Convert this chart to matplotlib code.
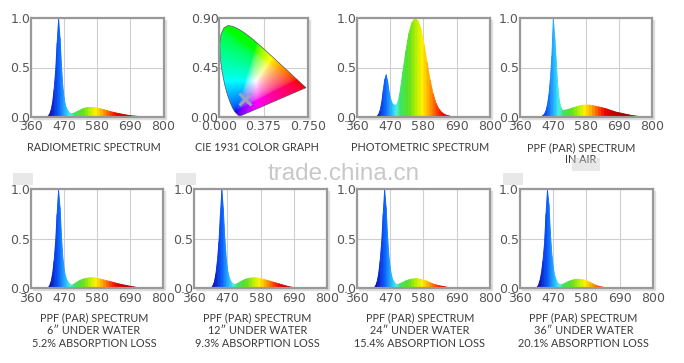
import numpy as np
import matplotlib
matplotlib.use("Agg")
import matplotlib.pyplot as plt
from matplotlib.colors import LinearSegmentedColormap
from matplotlib.patches import Polygon, Rectangle

# wavelength grid (nm) shared by all spectrum panels
wavelength = [360, 380,
              400, 405, 410, 415, 420, 425, 430, 435, 440, 445, 450, 455, 460, 465,
              470, 475, 480, 485, 490, 495, 500,
              510, 520, 530, 540, 550, 560, 570, 580, 590, 600, 610, 620, 630, 640,
              650, 660, 670, 680, 690, 700, 710, 720, 730, 740, 750, 760, 770, 780,
              790, 800]

radiometric = [0, 0,
               0, 0.002, 0.005, 0.01, 0.03, 0.07, 0.15, 0.28, 0.47, 0.75, 1.0, 0.8, 0.5, 0.28,
               0.16, 0.1, 0.07, 0.05, 0.038, 0.036, 0.04,
               0.055, 0.07, 0.085, 0.095, 0.1, 0.1, 0.098, 0.092, 0.085, 0.077, 0.068, 0.059, 0.051, 0.044,
               0.037, 0.031, 0.025, 0.02, 0.015, 0.012, 0.009, 0.007, 0.005, 0.003, 0.002, 0.001, 0, 0,
               0, 0]

photometric = [0, 0,
               0, 0, 0, 0, 0.005, 0.01, 0.03, 0.07, 0.15, 0.27, 0.38, 0.43, 0.36, 0.25,
               0.18, 0.14, 0.125, 0.12, 0.13, 0.17, 0.24,
               0.46, 0.67, 0.85, 0.96, 1.0, 0.98, 0.9, 0.74, 0.56, 0.38, 0.24, 0.14, 0.08, 0.045,
               0.025, 0.015, 0.008, 0.004, 0.002, 0, 0, 0, 0, 0, 0, 0, 0, 0,
               0, 0]

ppf_air = [0, 0,
           0, 0, 0, 0, 0, 0, 0.005, 0.015, 0.03, 0.06, 0.12, 0.22, 0.38, 0.62,
           1.0, 0.8, 0.55, 0.3, 0.17, 0.1, 0.07,
           0.072, 0.08, 0.09, 0.1, 0.11, 0.117, 0.122, 0.124, 0.123, 0.118, 0.112, 0.105, 0.098, 0.09,
           0.081, 0.07, 0.06, 0.05, 0.044, 0.038, 0.03, 0.024, 0.018, 0.013, 0.009, 0.006, 0.003, 0.001,
           0, 0]

ppf_6in = [0, 0,
           0, 0.002, 0.005, 0.01, 0.03, 0.07, 0.15, 0.28, 0.47, 0.75, 1.0, 0.82, 0.52, 0.29,
           0.17, 0.11, 0.075, 0.055, 0.042, 0.038, 0.045,
           0.065, 0.083, 0.096, 0.105, 0.11, 0.112, 0.11, 0.105, 0.098, 0.09, 0.082, 0.075, 0.067, 0.058,
           0.05, 0.043, 0.037, 0.031, 0.025, 0.019, 0.014, 0.01, 0.006, 0.003, 0.001, 0, 0, 0,
           0, 0]

ppf_12in = [0, 0,
            0, 0.002, 0.005, 0.01, 0.03, 0.07, 0.15, 0.28, 0.47, 0.75, 1.0, 0.8, 0.5, 0.29,
            0.17, 0.11, 0.075, 0.055, 0.045, 0.045, 0.05,
            0.068, 0.085, 0.098, 0.106, 0.11, 0.111, 0.108, 0.102, 0.094, 0.086, 0.077, 0.068, 0.059, 0.05,
            0.041, 0.032, 0.024, 0.017, 0.012, 0.008, 0.005, 0.003, 0.001, 0, 0, 0, 0, 0,
            0, 0]

ppf_24in = [0, 0,
            0, 0.002, 0.005, 0.01, 0.03, 0.07, 0.15, 0.28, 0.47, 0.75, 1.0, 0.82, 0.52, 0.3,
            0.18, 0.11, 0.075, 0.055, 0.042, 0.042, 0.05,
            0.065, 0.08, 0.09, 0.098, 0.1, 0.1, 0.096, 0.088, 0.077, 0.063, 0.05, 0.04, 0.032, 0.026,
            0.02, 0.014, 0.009, 0.005, 0.003, 0.001, 0, 0, 0, 0, 0, 0, 0, 0,
            0, 0]

ppf_36in = [0, 0,
            0, 0.002, 0.006, 0.012, 0.035, 0.08, 0.16, 0.28, 0.45, 0.75, 1.0, 0.85, 0.55, 0.33,
            0.2, 0.12, 0.08, 0.055, 0.045, 0.04, 0.045,
            0.06, 0.075, 0.086, 0.093, 0.096, 0.095, 0.09, 0.08, 0.066, 0.05, 0.036, 0.025, 0.018, 0.013,
            0.009, 0.006, 0.003, 0.001, 0, 0, 0, 0, 0, 0, 0, 0, 0, 0,
            0, 0]

x_ticks = [360, 470, 580, 690, 800]
y_ticks = [0.0, 0.5, 1.0]
y_ticklabels = ["0.0", "0.5", "1.0"]

# CIE 1931 spectral locus (x, y), 380..700 nm
locus_x = [0.1741, 0.1733, 0.1714, 0.1644, 0.1566, 0.1440, 0.1355, 0.1241, 0.1096, 0.0913,
           0.0687, 0.0454, 0.0235, 0.0082, 0.0039, 0.0139, 0.0389, 0.0743, 0.1142, 0.1547,
           0.1929, 0.2296, 0.2658, 0.3016, 0.3373, 0.3731, 0.4087, 0.4441, 0.4788, 0.5125,
           0.5448, 0.5752, 0.6029, 0.6270, 0.6658, 0.6915, 0.7079, 0.7190, 0.7260, 0.7300,
           0.7334, 0.7347]
locus_y = [0.0050, 0.0048, 0.0051, 0.0109, 0.0177, 0.0297, 0.0399, 0.0578, 0.0868, 0.1327,
           0.2007, 0.2950, 0.4127, 0.5384, 0.6548, 0.7502, 0.8120, 0.8338, 0.8262, 0.8059,
           0.7816, 0.7543, 0.7243, 0.6923, 0.6589, 0.6245, 0.5896, 0.5547, 0.5202, 0.4866,
           0.4544, 0.4242, 0.3965, 0.3725, 0.3340, 0.3083, 0.2920, 0.2809, 0.2740, 0.2700,
           0.2666, 0.2653]
light_point = (0.22, 0.16)
cie_xticks = [0.0, 0.375, 0.75]
cie_xticklabels = ["0.000", "0.375", "0.750"]
cie_yticks = [0.0, 0.45, 0.9]
cie_yticklabels = ["0.00", "0.45", "0.90"]

titles = [
    ["RADIOMETRIC SPECTRUM"],
    ["CIE 1931 COLOR GRAPH"],
    ["PHOTOMETRIC SPECTRUM"],
    ["PPF (PAR) SPECTRUM", "IN AIR"],
    ["PPF (PAR) SPECTRUM", "6\u2033 UNDER WATER", "5.2% ABSORPTION LOSS"],
    ["PPF (PAR) SPECTRUM", "12\u2033 UNDER WATER", "9.3% ABSORPTION LOSS"],
    ["PPF (PAR) SPECTRUM", "24\u2033 UNDER WATER", "15.4% ABSORPTION LOSS"],
    ["PPF (PAR) SPECTRUM", "36\u2033 UNDER WATER", "20.1% ABSORPTION LOSS"],
]

W, H = 684, 363
fig = plt.figure(figsize=(W / 100, H / 100), dpi=100)

tick_font = dict(family=["Liberation Sans Narrow", "DejaVu Sans"], size=9, color="#555555")
title_font = dict(family=["Lato", "DejaVu Sans"], size=7.8, color="#3a3a3a")

# wavelength colour bands
anchors = [(360, "#1a0850"), (400, "#140a80"), (425, "#0a14b4"), (440, "#0a3ce6"),
           (452, "#0a64ff"), (465, "#1e96ff"), (478, "#28c8ff"), (490, "#50f0e6"),
           (505, "#3ce664"), (530, "#5ae020"), (555, "#b4f000"), (575, "#fff000"),
           (590, "#ffc000"), (605, "#ff8c00"), (625, "#ff3c00"), (645, "#e80000"),
           (680, "#b40000"), (750, "#820000"), (800, "#600000")]
spec_cmap = LinearSegmentedColormap.from_list(
    "spec", [((w - 360) / 440, c) for w, c in anchors])


def make_axes(x0, y0, x1, y1):
    # shadow behind the frame
    fig.add_artist(Rectangle(((x0 + 2) / W, 1 - (y1 + 2) / H), (x1 - x0) / W, (y1 - y0) / H,
                             transform=fig.transFigure, color="#dedede", zorder=-1))
    ax = fig.add_axes([x0 / W, 1 - y1 / H, (x1 - x0) / W, (y1 - y0) / H])
    for s in ax.spines.values():
        s.set_color("#999999")
        s.set_linewidth(1.6)
    ax.set_axisbelow(True)
    ax.grid(color="#cfcfcf", lw=0.8)
    ax.tick_params(length=0)
    ax.tick_params(axis="x", pad=2.5)
    ax.tick_params(axis="y", pad=0.5)
    return ax


def spectrum_panel(box, values):
    ax = make_axes(*box)
    for i in range(len(wavelength) - 1):
        mid = (wavelength[i] + wavelength[i + 1]) / 2
        c = spec_cmap((mid - 360) / 440)
        ax.fill_between(wavelength[i:i + 2], values[i:i + 2], color=c, lw=0.6)
    ax.set_xlim(360, 800)
    ax.set_ylim(0, 1.0)
    ax.set_xticks(x_ticks)
    ax.set_xticklabels([str(t) for t in x_ticks], **tick_font)
    ax.set_yticks(y_ticks)
    ax.set_yticklabels(y_ticklabels, **tick_font)
    return ax


def cie_panel(box):
    ax = make_axes(*box)
    xs = np.linspace(0.0005, 0.75, 300)
    ys = np.linspace(0.0005, 0.9, 360)
    gx, gy = np.meshgrid(xs, ys)
    xyz = np.stack([gx / gy, np.ones_like(gx), (1 - gx - gy) / gy], axis=-1)
    m = np.array([[3.2406, -1.5372, -0.4986],
                  [-0.9689, 1.8758, 0.0415],
                  [0.0557, -0.2040, 1.0570]])
    rgb = np.clip(xyz @ m.T, 0, None)
    rgb = rgb / rgb.max(axis=-1, keepdims=True)
    rgb = rgb ** (1 / 2.2)
    im = ax.imshow(rgb, extent=[0, 0.75, 0, 0.9], origin="lower", aspect="auto",
                   interpolation="bilinear", zorder=1)
    poly = Polygon(np.column_stack([locus_x, locus_y]), closed=True,
                   facecolor="none", edgecolor="#555555", lw=0.5, zorder=2)
    ax.add_patch(poly)
    im.set_clip_path(poly)
    ax.plot(*light_point, marker="x", ms=8, mew=2.2, color="#9aa2c4", zorder=3)
    ax.set_xlim(0, 0.75)
    ax.set_ylim(0, 0.9)
    ax.set_xticks(cie_xticks)
    ax.set_xticklabels(cie_xticklabels, **tick_font)
    ax.set_yticks(cie_yticks)
    ax.set_yticklabels(cie_yticklabels, **tick_font)
    return ax


spectrum_panel((31, 18.3, 163.5, 116.7), radiometric)
cie_panel((219.3, 18.3, 307.7, 116.7))
spectrum_panel((357, 18.3, 490, 116.7), photometric)
spectrum_panel((519.7, 18.3, 652.3, 116.7), ppf_air)
spectrum_panel((31, 189.3, 163.3, 288.3), ppf_6in)
spectrum_panel((194.3, 189.3, 326.7, 288.3), ppf_12in)
spectrum_panel((357, 189.3, 489.7, 288.3), ppf_24in)
spectrum_panel((519.7, 189.3, 653, 288.3), ppf_36in)

# titles under each panel, one line at a time
title_x = [94, 257, 420, 581, 94, 257.5, 420, 583.5]
title_y = [150.7, 150.7, 150.7, 151, 321.7, 321.7, 321.7, 321.7]
for lines, tx, ty in zip(titles, title_x, title_y):
    for k, line in enumerate(lines):
        fig.text(tx / W, 1 - (ty + k * 12.5) / H, line, ha="center", va="baseline", **title_font)

# watermark and the smudges left around it
fig.text(344 / W, 1 - 180 / H, "trade.china.cn", ha="center", va="baseline",
         fontsize=17.5, color="#c8c8c8", family=["Liberation Sans", "DejaVu Sans"])
for bx, by, bw, bh in [(13, 173, 20, 12), (176, 173, 20, 12), (503, 173, 20, 12), (572, 158, 28, 13)]:
    fig.add_artist(Rectangle((bx / W, 1 - (by + bh) / H), bw / W, bh / H,
                             transform=fig.transFigure, color="#cccccc", alpha=0.45, lw=0, zorder=5))

fig.savefig("out.png", dpi=100)
